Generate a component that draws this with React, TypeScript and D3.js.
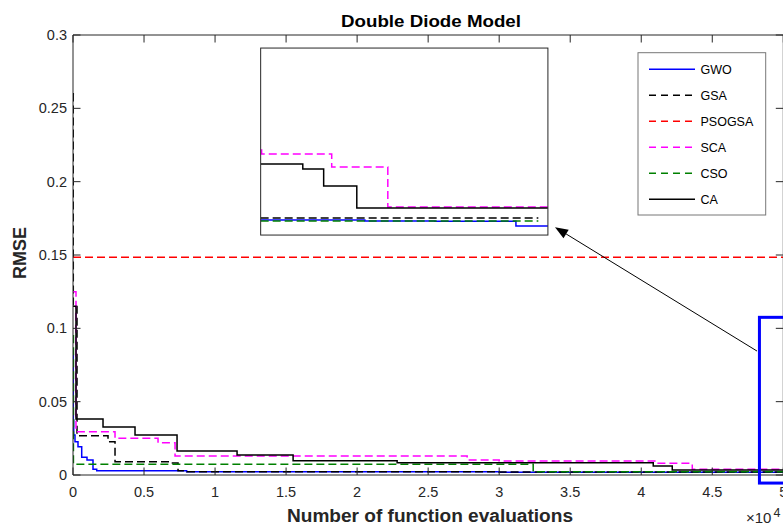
import React from "react";
import * as d3 from "d3";

// Convergence curves: function evaluations vs. RMSE
const gwoEvals = [0, 20, 50, 141, 352, 613, 986, 1408, 1669, 8000, 30000, 50000];
const gwoRmse = [0.082, 0.0375, 0.0273, 0.0227, 0.0193, 0.0121, 0.0102, 0.0039, 0.0029, 0.0022, 0.0019, 0.0019];

const gsaEvals = [0, 20, 282, 2465, 2958, 6831, 7394, 8028, 30000, 50000];
const gsaRmse = [0.26, 0.116, 0.0268, 0.0227, 0.0091, 0.0082, 0.0029, 0.0023, 0.002, 0.002];

const psogsaEvals = [0, 50000];
const psogsaRmse = [0.1484, 0.1484];

const scaEvals = [0, 211, 2958, 5986, 7183, 27746, 30000, 41127, 43592, 50000];
const scaRmse = [0.125, 0.0295, 0.025, 0.022, 0.013, 0.0102, 0.0095, 0.008, 0.0039, 0.0036];

const csoEvals = [0, 30, 32394, 50000];
const csoRmse = [0.095, 0.0073, 0.0023, 0.0022];

const caEvals = [0, 211, 2113, 4366, 7324, 11549, 15493, 22817, 40845, 42183, 50000];
const caRmse = [0.115, 0.0382, 0.0327, 0.0273, 0.0164, 0.0136, 0.0098, 0.0084, 0.0061, 0.0034, 0.0034];

// Close-up of the final evaluations
const insetDomainX = [48500, 50000];
const insetDomainY = [0.00098, 0.0011];
const insetGwoEvals = [48500, 49044, 49409, 49833, 50000];
const insetGwoRmse = [0.0009896, 0.000989, 0.0009888, 0.0009858, 0.0009858];
const insetGsaEvals = [48500, 49950];
const insetGsaRmse = [0.0009909, 0.0009909];
const insetScaEvals = [48500, 48505, 48871, 49164, 50000];
const insetScaRmse = [0.0010345, 0.001032, 0.0010236, 0.000998, 0.000998];
const insetCsoEvals = [48500, 49950];
const insetCsoRmse = [0.000989, 0.000989];
const insetCaEvals = [48500, 48720, 48829, 49002, 50000];
const insetCaRmse = [0.0010256, 0.0010224, 0.0010114, 0.0009973, 0.0009973];

// Inset placement, zoom rectangle and arrow in data units of the main axes
const insetBoxX = [13210, 33430];
const insetBoxY = [0.1636, 0.2911];
const zoomBoxX = [48320, 51000];
const zoomBoxY = [-0.0055, 0.1075];
const arrowFrom = [48150, 0.0845];
const arrowTo = [33930, 0.169];

const xTicks = [0, 0.5, 1, 1.5, 2, 2.5, 3, 3.5, 4, 4.5, 5];
const yTicks = [0, 0.05, 0.1, 0.15, 0.2, 0.25, 0.3];

const seriesNames = ["GWO", "GSA", "PSOGSA", "SCA", "CSO", "CA"];
const seriesColors = ["#0000ff", "#000000", "#ff0000", "#ff00ff", "#008000", "#000000"];
const seriesDashed = [false, true, true, true, true, false];

const W = 783;
const H = 526;
const M = { left: 73, top: 35, right: 783.3, bottom: 475 };
const FONT = "'Liberation Sans', Arial, Helvetica, sans-serif";
const AX = "#262626";
const DASH = "8,4";

const x = d3.scaleLinear().domain([0, 50000]).range([M.left, M.right]);
const y = d3.scaleLinear().domain([0, 0.3]).range([M.bottom, M.top]);

const mainSeries = [
  [gwoEvals, gwoRmse],
  [gsaEvals, gsaRmse],
  [psogsaEvals, psogsaRmse],
  [scaEvals, scaRmse],
  [csoEvals, csoRmse],
  [caEvals, caRmse],
];

const insetSeries: (number[][] | null)[] = [
  [insetGwoEvals, insetGwoRmse],
  [insetGsaEvals, insetGsaRmse],
  null,
  [insetScaEvals, insetScaRmse],
  [insetCsoEvals, insetCsoRmse],
  [insetCaEvals, insetCaRmse],
];

function stepPath(xs: number[], ys: number[], sx: any, sy: any) {
  const pts = xs.map((v, i) => [v, ys[i]] as [number, number]);
  return (
    d3
      .line<[number, number]>()
      .x((d) => sx(d[0]))
      .y((d) => sy(d[1]))
      .curve(d3.curveStepAfter)(pts) || ""
  );
}

export default function App() {
  const ix0 = x(insetBoxX[0]);
  const ix1 = x(insetBoxX[1]);
  const iy0 = y(insetBoxY[1]);
  const iy1 = y(insetBoxY[0]);
  const ixs = d3.scaleLinear().domain(insetDomainX).range([ix0, ix1]);
  const iys = d3.scaleLinear().domain(insetDomainY).range([iy1, iy0]);

  const ax0 = x(arrowFrom[0]);
  const ay0 = y(arrowFrom[1]);
  const ax1 = x(arrowTo[0]);
  const ay1 = y(arrowTo[1]);
  const ang = Math.atan2(ay1 - ay0, ax1 - ax0);
  const headLen = 13;
  const headW = 5;
  const bx = ax1 - headLen * Math.cos(ang);
  const by = ay1 - headLen * Math.sin(ang);
  const head = [
    [ax1, ay1],
    [bx + headW * Math.sin(ang), by - headW * Math.cos(ang)],
    [bx - headW * Math.sin(ang), by + headW * Math.cos(ang)],
  ]
    .map((p) => p.join(","))
    .join(" ");

  const tickLen = 7.5;
  const legend = { x0: 638, y0: 52.7, x1: 765.7, y1: 215, row0: 69.3, rowStep: 26 };

  return (
    <svg
      width={W}
      height={H}
      style={{ position: "absolute", left: 0, top: 0, background: "#fff" }}
      fontFamily={FONT}
    >
      <defs>
        <clipPath id="plotClip">
          <rect x={M.left} y={M.top - 2} width={M.right - M.left} height={M.bottom - M.top + 4} />
        </clipPath>
        <clipPath id="insetClip">
          <rect x={ix0} y={iy0} width={ix1 - ix0} height={iy1 - iy0} />
        </clipPath>
      </defs>
      <rect x={0} y={0} width={W} height={H} fill="#fff" />

      {/* curves */}
      <g clipPath="url(#plotClip)">
        {mainSeries.map(([xs, ys], i) => (
          <path
            key={seriesNames[i]}
            d={stepPath(xs, ys, x, y)}
            fill="none"
            stroke={seriesColors[i]}
            strokeWidth={1.5}
            strokeDasharray={seriesDashed[i] ? DASH : undefined}
          />
        ))}
      </g>

      {/* axes box and ticks */}
      <g stroke={AX} strokeWidth={1} fill="none">
        <line x1={M.left} x2={M.right} y1={M.bottom} y2={M.bottom} />
        <line x1={M.left} x2={M.right} y1={M.top} y2={M.top} />
        <line x1={M.left} x2={M.left} y1={M.top} y2={M.bottom} />
        <line x1={M.right} x2={M.right} y1={M.top} y2={M.bottom} />
        {xTicks.map((t) => (
          <g key={"xt" + t}>
            <line x1={x(t * 1e4)} x2={x(t * 1e4)} y1={M.bottom} y2={M.bottom - tickLen} />
            <line x1={x(t * 1e4)} x2={x(t * 1e4)} y1={M.top} y2={M.top + tickLen} />
          </g>
        ))}
        {yTicks.map((t) => (
          <g key={"yt" + t}>
            <line x1={M.left} x2={M.left + tickLen} y1={y(t)} y2={y(t)} />
            <line x1={M.right} x2={M.right - tickLen} y1={y(t)} y2={y(t)} />
          </g>
        ))}
      </g>

      <g fill={AX}>
        {xTicks.map((t) => (
          <text key={"xl" + t} x={x(t * 1e4)} y={497} textAnchor="middle" fontSize={14.5}>
            {String(t)}
          </text>
        ))}
        {yTicks.map((t) => (
          <text key={"yl" + t} x={M.left - 6} y={y(t) + 5} textAnchor="end" fontSize={14.5}>
            {String(t)}
          </text>
        ))}
        <text x={746} y={523} style={{ fontSize: "15px" }}>
          ×10
        </text>
        <text x={773.5} y={517} style={{ fontSize: "12.5px" }}>
          4
        </text>
      </g>

      <text
        x={431}
        y={27}
        textAnchor="middle"
        fontSize={16.5}
        fontWeight="bold"
        fill="#000"
        textLength={180}
        lengthAdjust="spacingAndGlyphs"
      >
        Double Diode Model
      </text>
      <text
        x={430}
        y={522}
        textAnchor="middle"
        fontSize={17.5}
        fontWeight="bold"
        fill={AX}
        textLength={286}
        lengthAdjust="spacingAndGlyphs"
      >
        Number of function evaluations
      </text>
      <text
        transform={`translate(25.5,253) rotate(-90)`}
        textAnchor="middle"
        fontSize={18.5}
        fontWeight="bold"
        fill={AX}
        textLength={52}
        lengthAdjust="spacingAndGlyphs"
      >
        RMSE
      </text>

      {/* zoom indicator */}
      <rect
        x={x(zoomBoxX[0])}
        y={y(zoomBoxY[1])}
        width={x(zoomBoxX[1]) - x(zoomBoxX[0])}
        height={y(zoomBoxY[0]) - y(zoomBoxY[1])}
        fill="none"
        stroke="#0000ff"
        strokeWidth={3}
      />

      {/* arrow */}
      <line x1={ax0} y1={ay0} x2={bx} y2={by} stroke="#000" strokeWidth={1} />
      <polygon points={head} fill="#000" />

      {/* inset */}
      <rect x={ix0} y={iy0} width={ix1 - ix0} height={iy1 - iy0} fill="#fff" />
      <g clipPath="url(#insetClip)">
        {insetSeries.map((s, i) =>
          s ? (
            <path
              key={"in" + seriesNames[i]}
              d={stepPath(s[0], s[1], ixs, iys)}
              fill="none"
              stroke={seriesColors[i]}
              strokeWidth={1.5}
              strokeDasharray={seriesDashed[i] ? DASH : undefined}
            />
          ) : null
        )}
      </g>
      <rect x={ix0} y={iy0} width={ix1 - ix0} height={iy1 - iy0} fill="none" stroke={AX} strokeWidth={1} />

      {/* legend */}
      <rect
        x={legend.x0}
        y={legend.y0}
        width={legend.x1 - legend.x0}
        height={legend.y1 - legend.y0}
        fill="#fff"
        stroke="#777"
        strokeWidth={1}
      />
      {seriesNames.map((name, i) => {
        const ry = legend.row0 + i * legend.rowStep;
        return (
          <g key={"lg" + name}>
            <line
              x1={649}
              x2={695}
              y1={ry}
              y2={ry}
              stroke={seriesColors[i]}
              strokeWidth={1.5}
              strokeDasharray={seriesDashed[i] ? "7,5" : undefined}
            />
            <text x={700.5} y={ry + 4.5} fontSize={12.5} fill="#000">
              {name}
            </text>
          </g>
        );
      })}
    </svg>
  );
}
